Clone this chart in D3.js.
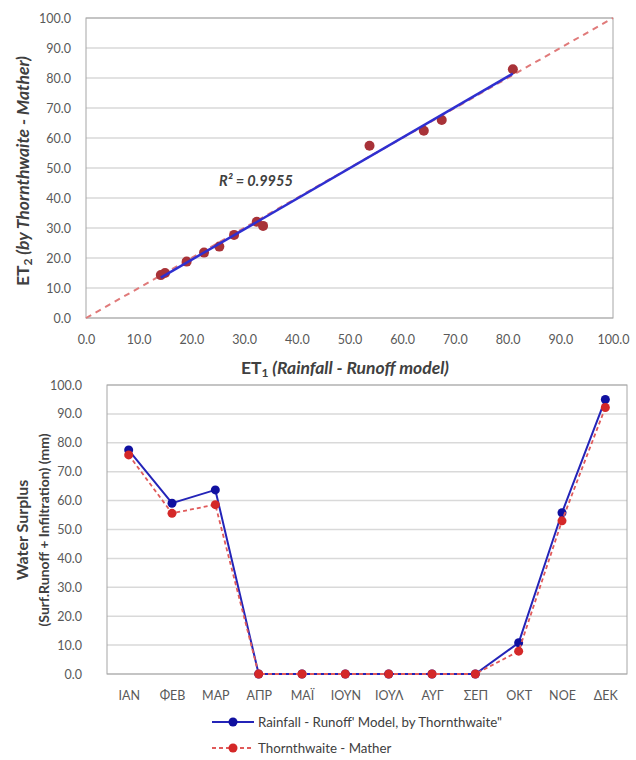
<!DOCTYPE html>
<html>
<head>
<meta charset="utf-8">
<script src="https://cdn.jsdelivr.net/npm/d3@7"></script>
<style>
  body { margin: 0; background: #fff; }
  text { font-family: Lato, "Open Sans", sans-serif; }
</style>
</head>
<body>
<div id="chart"></div>
<script>
// scatter: ET1 (rainfall-runoff model) vs ET2 (Thornthwaite-Mather)
const et1 = [14.2, 15.0, 19.1, 22.4, 25.3, 28.1, 32.4, 33.6, 53.8, 64.1, 67.5, 81.0];
const et2 = [14.3, 15.0, 18.8, 21.8, 23.8, 27.7, 32.1, 30.7, 57.4, 62.4, 66.0, 82.9];
const r2Label = "R² = 0.9955";

// monthly water surplus
const months = ["ΙΑΝ", "ΦΕΒ", "ΜΑΡ", "ΑΠΡ", "ΜΑΪ", "ΙΟΥΝ", "ΙΟΥΛ", "ΑΥΓ", "ΣΕΠ", "ΟΚΤ", "ΝΟΕ", "ΔΕΚ"];
const rainfallRunoff = [77.5, 59.1, 63.7, 0, 0, 0, 0, 0, 0, 10.8, 55.8, 95.0];
const thornthwaite = [75.8, 55.6, 58.6, 0, 0, 0, 0, 0, 0, 7.9, 53.0, 92.2];
const seriesNames = ["Rainfall - Runoff' Model, by Thornthwaite\"", "Thornthwaite - Mather"];

const yTicks = d3.range(0, 101, 10);
const fmt = d3.format(".1f");

const svg = d3.select("#chart").append("svg")
    .attr("width", 636)
    .attr("height", 760);

const gridColor = "#d9d9d9";
const borderColor = "#a6a6a6";
const labelColor = "#595959";

// ---------- top chart ----------
const x1 = d3.scaleLinear().domain([0, 100]).range([86, 613]);
const y1 = d3.scaleLinear().domain([0, 100]).range([318, 18]);

const topG = svg.append("g");

topG.append("g")
    .selectAll("line")
    .data(yTicks)
    .join("line")
    .attr("x1", x1(0)).attr("x2", x1(100))
    .attr("y1", d => y1(d)).attr("y2", d => y1(d))
    .attr("stroke", gridColor).attr("stroke-width", 1.5);

topG.append("rect")
    .attr("x", x1(0)).attr("y", y1(100))
    .attr("width", x1(100) - x1(0)).attr("height", y1(0) - y1(100))
    .attr("fill", "none").attr("stroke", borderColor);

const yAx1 = topG.append("g")
    .attr("transform", `translate(${x1(0)},0)`)
    .call(d3.axisLeft(y1).tickValues(yTicks).tickFormat(fmt).tickSize(0).tickPadding(15));
yAx1.select(".domain").remove();
yAx1.selectAll("text").attr("fill", labelColor).style("font-size", "12.5px");

const xAx1 = topG.append("g")
    .attr("transform", `translate(0,${y1(0)})`)
    .call(d3.axisBottom(x1).tickValues(yTicks).tickFormat(fmt).tickSize(0).tickPadding(17));
xAx1.select(".domain").remove();
xAx1.selectAll("text").attr("fill", labelColor).style("font-size", "12.5px");

// 1:1 line
topG.append("line")
    .attr("x1", x1(0)).attr("y1", y1(0))
    .attr("x2", x1(100)).attr("y2", y1(100))
    .attr("stroke", "#e07a7a").attr("stroke-width", 2)
    .attr("stroke-dasharray", "6,5");

// linear trendline from the points
const mx = d3.mean(et1), my = d3.mean(et2);
const slope = d3.sum(et1, (v, i) => (v - mx) * (et2[i] - my)) / d3.sum(et1, v => (v - mx) * (v - mx));
const icpt = my - slope * mx;
const [xMin, xMax] = d3.extent(et1);

topG.selectAll(".pt")
    .data(et1.map((v, i) => [v, et2[i]]))
    .join("circle")
    .attr("class", "pt")
    .attr("cx", d => x1(d[0])).attr("cy", d => y1(d[1]))
    .attr("r", 5)
    .attr("fill", "#a83238");

topG.append("line")
    .attr("x1", x1(xMin)).attr("y1", y1(slope * xMin + icpt))
    .attr("x2", x1(xMax)).attr("y2", y1(slope * xMax + icpt))
    .attr("stroke", "#2f2fd0").attr("stroke-width", 2.5);

topG.append("text")
    .attr("x", 219).attr("y", 186)
    .attr("fill", "#404040")
    .style("font-size", "14.5px").style("font-weight", "bold").style("font-style", "italic")
    .text(r2Label);

// axis titles
const xt1 = topG.append("text")
    .attr("x", 345).attr("y", 374)
    .attr("text-anchor", "middle")
    .attr("fill", "#404040")
    .style("font-size", "17.5px").style("font-weight", "bold");
xt1.append("tspan").text("ET");
xt1.append("tspan").attr("dy", 3).style("font-size", "12px").text("1");
xt1.append("tspan").attr("dy", -3).style("font-style", "italic").text(" (Rainfall - Runoff model)");

const yt1 = topG.append("text")
    .attr("transform", "translate(29,171) rotate(-90)")
    .attr("text-anchor", "middle")
    .attr("fill", "#404040")
    .style("font-size", "17.5px").style("font-weight", "bold");
yt1.append("tspan").text("ET");
yt1.append("tspan").attr("dy", 3).style("font-size", "12px").text("2");
yt1.append("tspan").attr("dy", -3).style("font-style", "italic").text(" (by Thornthwaite - Mather)");

// ---------- bottom chart ----------
const x2 = d3.scalePoint().domain(months).range([107, 627]).padding(0.5);
const y2 = d3.scaleLinear().domain([0, 100]).range([674, 385]);

const botG = svg.append("g");

botG.append("g")
    .selectAll("line")
    .data(yTicks)
    .join("line")
    .attr("x1", 107).attr("x2", 627)
    .attr("y1", d => y2(d)).attr("y2", d => y2(d))
    .attr("stroke", gridColor).attr("stroke-width", 1.5);

botG.append("rect")
    .attr("x", 107).attr("y", y2(100))
    .attr("width", 520).attr("height", y2(0) - y2(100))
    .attr("fill", "none").attr("stroke", borderColor);

const yAx2 = botG.append("g")
    .attr("transform", "translate(107,0)")
    .call(d3.axisLeft(y2).tickValues(yTicks).tickFormat(fmt).tickSize(0).tickPadding(25));
yAx2.select(".domain").remove();
yAx2.selectAll("text").attr("fill", labelColor).style("font-size", "12.5px");

const xAx2 = botG.append("g")
    .attr("transform", `translate(0,${y2(0)})`)
    .call(d3.axisBottom(x2).tickSize(0).tickPadding(17));
xAx2.select(".domain").remove();
xAx2.selectAll("text").attr("fill", labelColor).style("font-size", "12.5px");

const line2 = d3.line()
    .x((d, i) => x2(months[i]))
    .y(d => y2(d));

botG.append("path")
    .datum(rainfallRunoff)
    .attr("fill", "none")
    .attr("stroke", "#2424b8").attr("stroke-width", 2)
    .attr("d", line2);
botG.selectAll(".bp")
    .data(rainfallRunoff)
    .join("circle")
    .attr("class", "bp")
    .attr("cx", (d, i) => x2(months[i])).attr("cy", d => y2(d))
    .attr("r", 4.5).attr("fill", "#1010a0");

botG.append("path")
    .datum(thornthwaite)
    .attr("fill", "none")
    .attr("stroke", "#e05a5a").attr("stroke-width", 1.8)
    .attr("stroke-dasharray", "4,3")
    .attr("d", line2);
botG.selectAll(".rp")
    .data(thornthwaite)
    .join("circle")
    .attr("class", "rp")
    .attr("cx", (d, i) => x2(months[i])).attr("cy", d => y2(d))
    .attr("r", 4.5).attr("fill", "#d42828");

const yt2 = botG.append("text")
    .attr("transform", "translate(0,530) rotate(-90)")
    .attr("text-anchor", "middle")
    .attr("fill", "#404040")
    .style("font-weight", "bold");
yt2.append("tspan").attr("x", 0).attr("y", 28).style("font-size", "16px").text("Water Surplus");
yt2.append("tspan").attr("x", 0).attr("y", 49).style("font-size", "14px").text("(Surf.Runoff + Infiltration) (mm)");

// legend
const legend = botG.selectAll(".lg")
    .data(seriesNames)
    .join("g")
    .attr("class", "lg")
    .attr("transform", (d, i) => `translate(212,${722 + i * 26})`);
legend.append("line")
    .attr("x1", 0).attr("x2", 42)
    .attr("stroke", (d, i) => i === 0 ? "#2424b8" : "#e05a5a")
    .attr("stroke-width", (d, i) => i === 0 ? 2 : 1.8)
    .attr("stroke-dasharray", (d, i) => i === 0 ? null : "4,3");
legend.append("circle")
    .attr("cx", 21).attr("r", 4.5)
    .attr("fill", (d, i) => i === 0 ? "#1010a0" : "#d42828");
legend.append("text")
    .attr("x", 46).attr("dy", "0.35em")
    .attr("fill", "#404040")
    .style("font-size", "13.3px")
    .text(d => d);
</script>
</body>
</html>
